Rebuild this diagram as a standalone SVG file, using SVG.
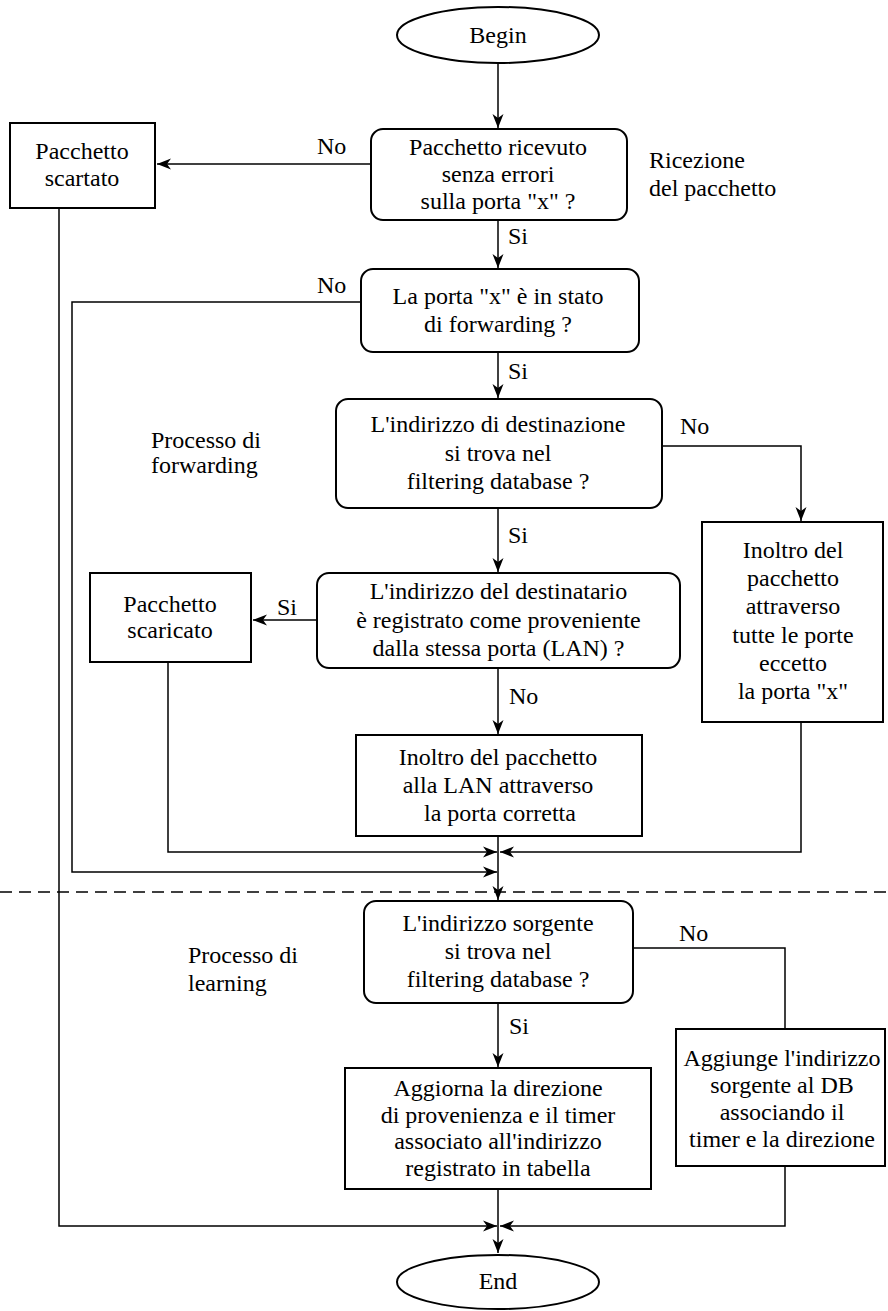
<svg xmlns="http://www.w3.org/2000/svg" width="888" height="1311" viewBox="0 0 888 1311">
<style>
.b{fill:#fff;stroke:#000;stroke-width:2}
.c{fill:none;stroke:#000;stroke-width:1.5}
.a{marker-end:url(#ah)}
text{font-family:"Liberation Serif","Times New Roman",serif;font-size:24px;fill:#000}
.m{text-anchor:middle}
</style>
<defs>
<marker id="ah" viewBox="-15 -7 16 14" markerWidth="16" markerHeight="14" refX="0" refY="0" orient="auto" markerUnits="userSpaceOnUse">
<path d="M0,0 L-14,-5.5 L-10,0 L-14,5.5 Z" fill="#000"/>
</marker>
</defs>
<rect width="888" height="1311" fill="#fff"/>

<g id="connectors">
<path class="c a" d="M498,63 V128"/>
<path class="c a" d="M371,164 H157"/>
<path class="c a" d="M498,220 V268"/>
<path class="c a" d="M498,352 V398"/>
<path class="c a" d="M662,446 H801 V521"/>
<path class="c a" d="M498,508 V572"/>
<path class="c a" d="M317,620 H253"/>
<path class="c a" d="M498,668 V734"/>
<path class="c a" d="M168,662 V852 H497"/>
<path class="c a" d="M801,722 V852 H500"/>
<path class="c a" d="M361,302 H72 V872 H497"/>
<path class="c a" d="M498,836 V900"/>
<path class="c" d="M0,892 H888" stroke-dasharray="12 7"/>
<path class="c a" d="M498,1003 V1067"/>
<path class="c" d="M633,948 H785 V1029"/>
<path class="c a" d="M59,208 V1226 H497"/>
<path class="c a" d="M785,1166 V1226 H500"/>
<path class="c a" d="M498,1189 V1253"/>
</g>

<g id="labels">
<text x="317" y="154">No</text>
<text x="508" y="244">Si</text>
<text x="317" y="293">No</text>
<text x="508" y="379">Si</text>
<text x="680" y="434">No</text>
<text x="508" y="543">Si</text>
<text x="277" y="615">Si</text>
<text x="509" y="704">No</text>
<text x="679" y="941">No</text>
<text x="509" y="1034">Si</text>
<text x="649" y="168">Ricezione</text>
<text x="649" y="196">del pacchetto</text>
<text x="151" y="448">Processo di</text>
<text x="151" y="473">forwarding</text>
<text x="188" y="963">Processo di</text>
<text x="188" y="991">learning</text>
</g>

<g id="begin">
<ellipse class="b" cx="498" cy="35" rx="101" ry="28"/>
<text class="m" x="498" y="43">Begin</text>
</g>

<g id="dec1">
<rect class="b" x="371" y="129" width="256" height="91" rx="12"/>
<text class="m" x="498" y="155">Pacchetto ricevuto</text>
<text class="m" x="498" y="182">senza errori</text>
<text class="m" x="498" y="209">sulla porta "x" ?</text>
</g>

<g id="scartato">
<rect class="b" x="10" y="123" width="145" height="85"/>
<text class="m" x="82" y="159">Pacchetto</text>
<text class="m" x="82" y="186">scartato</text>
</g>

<g id="dec2">
<rect class="b" x="361" y="269" width="278" height="83" rx="12"/>
<text class="m" x="498" y="304">La porta "x" è in stato</text>
<text class="m" x="498" y="332">di forwarding ?</text>
</g>

<g id="dec3">
<rect class="b" x="336" y="399" width="326" height="109" rx="12"/>
<text class="m" x="498" y="432">L'indirizzo di destinazione</text>
<text class="m" x="498" y="461">si trova nel</text>
<text class="m" x="498" y="489">filtering database ?</text>
</g>

<g id="inoltro-tutte">
<rect class="b" x="702" y="522" width="181" height="200"/>
<text class="m" x="793" y="558">Inoltro del</text>
<text class="m" x="793" y="586">pacchetto</text>
<text class="m" x="793" y="614">attraverso</text>
<text class="m" x="793" y="643">tutte le porte</text>
<text class="m" x="793" y="671">eccetto</text>
<text class="m" x="793" y="699">la porta "x"</text>
</g>

<g id="dec4">
<rect class="b" x="317" y="573" width="363" height="95" rx="12"/>
<text class="m" x="498.5" y="599">L'indirizzo del destinatario</text>
<text class="m" x="498.5" y="628">è registrato come proveniente</text>
<text class="m" x="498.5" y="656">dalla stessa porta (LAN) ?</text>
</g>

<g id="scaricato">
<rect class="b" x="90" y="573" width="161" height="89"/>
<text class="m" x="170" y="612">Pacchetto</text>
<text class="m" x="170" y="638">scaricato</text>
</g>

<g id="inoltro-lan">
<rect class="b" x="356" y="735" width="286" height="101"/>
<text class="m" x="498" y="765">Inoltro del pacchetto</text>
<text class="m" x="498" y="793">alla LAN attraverso</text>
<text class="m" x="500" y="821">la porta corretta</text>
</g>

<g id="dec5">
<rect class="b" x="364" y="901" width="269" height="102" rx="12"/>
<text class="m" x="498" y="931">L'indirizzo sorgente</text>
<text class="m" x="498" y="959">si trova nel</text>
<text class="m" x="498" y="987">filtering database ?</text>
</g>

<g id="aggiorna">
<rect class="b" x="345" y="1068" width="306" height="121"/>
<text class="m" x="498" y="1096">Aggiorna la direzione</text>
<text class="m" x="498" y="1123">di provenienza e il timer</text>
<text class="m" x="498" y="1149">associato all'indirizzo</text>
<text class="m" x="498" y="1176">registrato in tabella</text>
</g>

<g id="aggiunge">
<rect class="b" x="676" y="1029" width="209" height="137"/>
<text class="m" x="782" y="1066">Aggiunge l'indirizzo</text>
<text class="m" x="782" y="1093">sorgente al DB</text>
<text class="m" x="782" y="1120">associando il</text>
<text class="m" x="782" y="1147">timer e la direzione</text>
</g>

<g id="end">
<ellipse class="b" cx="498" cy="1282" rx="101" ry="27"/>
<text class="m" x="498" y="1289">End</text>
</g>
</svg>
